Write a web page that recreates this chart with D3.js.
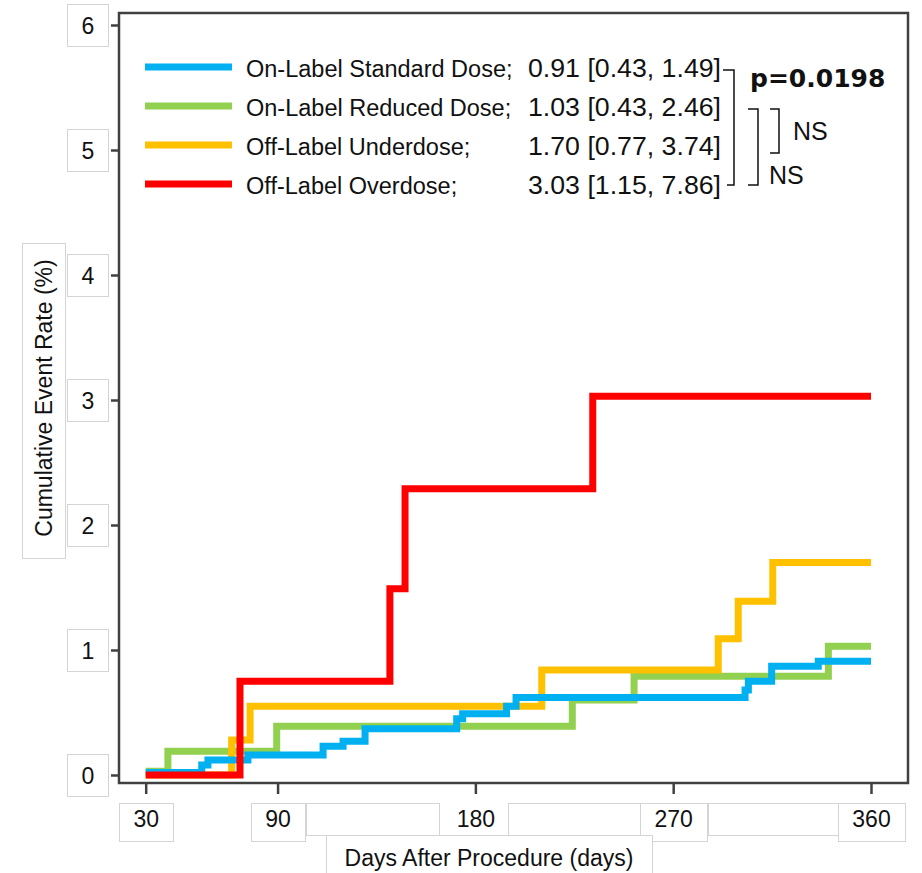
<!DOCTYPE html>
<html>
<head>
<meta charset="utf-8">
<script src="https://cdn.jsdelivr.net/npm/d3@7"></script>
<style>
body { margin: 0; background: #fff; }
svg { display: block; font-family: "Liberation Sans", Arial, sans-serif; }
</style>
</head>
<body>
<div id="chart"></div>
<script>
//Dados
var groupNames = ["On-Label Standard Dose;", "On-Label Reduced Dose;", "Off-Label Underdose;", "Off-Label Overdose;"];
var groupColors = ["#00b0f0", "#92d050", "#ffc000", "#ff0000"];
var hrLabels = ["0.91 [0.43, 1.49]", "1.03 [0.43, 2.46]", "1.70 [0.77, 3.74]", "3.03 [1.15, 7.86]"];

var standardDays = [30, 55.5, 58.3, 76.5, 110.7, 119.8, 129.8, 171.5, 174.2, 194.2, 198.5, 302.7, 304.2, 314.8, 336.0, 360];
var standardRates = [0.02, 0.08, 0.12, 0.16, 0.23, 0.27, 0.37, 0.45, 0.49, 0.55, 0.62, 0.68, 0.75, 0.87, 0.91, 0.91];
var reducedDays = [30, 40.1, 89.6, 224.1, 252.2, 340.6, 360];
var reducedRates = [0.03, 0.19, 0.39, 0.60, 0.79, 1.03, 1.03];
var underDays = [30, 69.1, 77.5, 210.2, 290.5, 299.6, 315.3, 360];
var underRates = [0.0, 0.28, 0.55, 0.84, 1.09, 1.39, 1.70, 1.70];
var overDays = [30, 72.9, 141.1, 148.0, 233.4, 360];
var overRates = [0, 0.75, 1.49, 2.29, 3.03, 3.03];

var xTicks = [30, 90, 180, 270, 360];
var yTicks = [0, 1, 2, 3, 4, 5, 6];

(function () {
	'use strict';
	var width = 922, height = 873;
	//Moldura do gráfico
	var frame = {left: 119, right: 908, top: 13, bottom: 783};
	var axisColor = "#404040";

	var x = d3.scaleLinear().domain([30, 360]).range([145.7, 871]);
	var y = d3.scaleLinear().domain([0, 6]).range([775, 25]);

	var svg = d3.select("#chart").append("svg")
		.attr("width", width)
		.attr("height", height);

	//Caixas claras atrás dos rótulos (como na figura)
	var boxes = svg.append("g")
		.attr("fill", "#fff")
		.attr("stroke", "#d4d4d4")
		.attr("stroke-width", 1);
	boxes.append("rect").attr("x", 22.5).attr("y", 243.5).attr("width", 43).attr("height", 315);
	yTicks.forEach(function (t) {
		boxes.append("rect")
			.attr("x", 67.5).attr("y", Math.round(y(t)) - 20.5)
			.attr("width", 41).attr("height", 42);
	});
	boxes.append("rect").attr("x", 306.5).attr("y", 803.5).attr("width", 133).attr("height", 32);
	boxes.append("rect").attr("x", 508.5).attr("y", 803.5).attr("width", 133).attr("height", 32);
	boxes.append("rect").attr("x", 708.5).attr("y", 803.5).attr("width", 134).attr("height", 32);
	xTicks.filter(function (t) { return t !== 180; }).forEach(function (t) {
		var w = String(t).length > 2 ? 67 : 54;
		boxes.append("rect")
			.attr("x", Math.round(x(t) - w / 2) + 0.5).attr("y", 803.5)
			.attr("width", w).attr("height", 38);
	});
	boxes.append("rect").attr("x", 326.5).attr("y", 835.5).attr("width", 326).attr("height", 40);

	//Curvas
	var line = d3.line()
		.x(function (d) { return x(d[0]); })
		.y(function (d) { return y(d[1]); })
		.curve(d3.curveStepAfter);

	var curves = [
		{days: reducedDays, rates: reducedRates, color: groupColors[1]},
		{days: underDays, rates: underRates, color: groupColors[2]},
		{days: standardDays, rates: standardRates, color: groupColors[0]},
		{days: overDays, rates: overRates, color: groupColors[3]}
	];
	svg.append("g").selectAll("path")
		.data(curves)
		.enter()
		.append("path")
		.attr("fill", "none")
		.attr("stroke", function (d) { return d.color; })
		.attr("stroke-width", 7)
		.attr("stroke-linejoin", "miter")
		.attr("d", function (d) { return line(d3.zip(d.days, d.rates)); });

	//Moldura e eixos
	svg.append("rect")
		.attr("x", frame.left).attr("y", frame.top)
		.attr("width", frame.right - frame.left)
		.attr("height", frame.bottom - frame.top)
		.attr("fill", "none")
		.attr("stroke", axisColor)
		.attr("stroke-width", 2.5);

	var yAxis = svg.append("g")
		.attr("transform", "translate(" + frame.left + ",0)")
		.call(d3.axisLeft(y).tickValues(yTicks).tickFormat(d3.format("d")).tickSize(8));
	var xAxis = svg.append("g")
		.attr("transform", "translate(0," + frame.bottom + ")")
		.call(d3.axisBottom(x).tickValues(xTicks).tickFormat(d3.format("d")).tickSize(11));
	[yAxis, xAxis].forEach(function (g) {
		g.select(".domain").remove();
		g.selectAll(".tick line").attr("stroke", axisColor).attr("stroke-width", 2.5);
		g.selectAll(".tick text")
			.attr("fill", "#111")
			.style("font-family", "'Liberation Sans', Arial, sans-serif")
			.style("font-size", "23px");
	});
	yAxis.selectAll(".tick text").attr("text-anchor", "middle").attr("x", -31).attr("dy", "0.35em");
	xAxis.selectAll(".tick text").attr("y", 44).attr("dy", null);

	//Títulos dos eixos
	svg.append("text")
		.attr("transform", "translate(52,398) rotate(-90)")
		.attr("text-anchor", "middle")
		.attr("font-size", 23)
		.attr("fill", "#111")
		.text("Cumulative Event Rate (%)");
	svg.append("text")
		.attr("x", 489).attr("y", 866)
		.attr("text-anchor", "middle")
		.attr("font-size", 23)
		.attr("fill", "#111")
		.text("Days After Procedure (days)");

	//Legenda
	var rowY = function (i) { return 67 + 39 * i; };
	var legend = svg.append("g");
	groupNames.forEach(function (name, i) {
		legend.append("line")
			.attr("x1", 145).attr("x2", 232)
			.attr("y1", rowY(i)).attr("y2", rowY(i))
			.attr("stroke", groupColors[i])
			.attr("stroke-width", 7);
		legend.append("text")
			.attr("x", 246).attr("y", rowY(i) + 10)
			.attr("font-size", 23.5)
			.attr("fill", "#111")
			.text(name);
		legend.append("text")
			.attr("x", 528).attr("y", rowY(i) + 10)
			.attr("font-size", 25)
			.attr("textLength", 193)
			.attr("lengthAdjust", "spacingAndGlyphs")
			.attr("fill", "#111")
			.text(hrLabels[i]);
	});

	//Colchetes de comparação
	var brackets = svg.append("g")
		.attr("fill", "none")
		.attr("stroke", "#111")
		.attr("stroke-width", 1.5);
	brackets.append("path").attr("d", "M723," + (rowY(0) + 3) + "H734V" + (rowY(3) + 1) + "H727");
	brackets.append("path").attr("d", "M748," + (rowY(1) + 3) + "H758V" + (rowY(3) + 1) + "H748");
	brackets.append("path").attr("d", "M770," + (rowY(1) + 3) + "H779V" + (rowY(2) + 8) + "H770");

	svg.append("text")
		.attr("x", 750).attr("y", 87)
		.attr("font-family", "'DejaVu Sans', Verdana, sans-serif")
		.attr("font-weight", "bold")
		.attr("font-size", 25)
		.attr("fill", "#111")
		.text("p=0.0198");
	svg.append("text")
		.attr("x", 793).attr("y", 140)
		.attr("font-size", 25)
		.attr("fill", "#111")
		.text("NS");
	svg.append("text")
		.attr("x", 769).attr("y", 184)
		.attr("font-size", 25)
		.attr("fill", "#111")
		.text("NS");
}());
</script>
</body>
</html>
